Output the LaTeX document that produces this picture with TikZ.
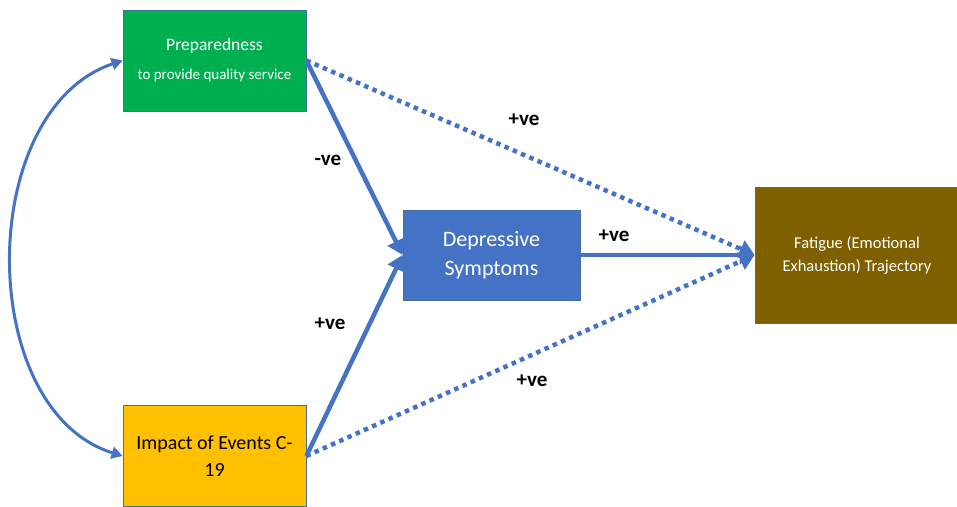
\documentclass[tikz,border=0pt]{standalone}
\usepackage{fontspec}
\setmainfont{Carlito}
\usetikzlibrary{arrows.meta}
\definecolor{boxline}{RGB}{65,113,156}
\definecolor{prepgreen}{RGB}{0,176,80}
\definecolor{impactgold}{RGB}{255,192,0}
\definecolor{deprblue}{RGB}{68,114,196}
\definecolor{fatbrown}{RGB}{127,96,0}
\definecolor{arrowblue}{RGB}{68,114,196}
\begin{document}
\begin{tikzpicture}[x=1pt,y=-1pt,
		factor/.style={draw=boxline,line width=0.8pt,align=center,inner sep=2pt},
		path/.style={arrowblue,line width=4.5pt,-{Triangle[length=15pt,width=18pt]}},
		dotpath/.style={path,dash pattern=on 4.5pt off 4.5pt},
		sign/.style={font=\bfseries\fontsize{21}{24}\selectfont}]
		\useasboundingbox (0,0) rectangle (957,506);
		% boxes
		\node[factor,fill=prepgreen,text=white,minimum width=183pt,minimum height=101pt] (prep) at (214.5,60.5)
			{{\fontsize{17.5}{20}\selectfont Preparedness}\\[15pt]{\fontsize{15}{17}\selectfont to provide quality service}};
		\node[factor,fill=impactgold,text=black,minimum width=183pt,minimum height=101pt,font=\fontsize{20}{27}\selectfont] (impact) at (214.5,456)
			{Impact of Events C-\\19};
		\node[factor,fill=deprblue,text=white,minimum width=177pt,minimum height=90pt,font=\fontsize{22}{29}\selectfont] (depr) at (491.5,255)
			{Depressive\\Symptoms};
		\node[factor,fill=fatbrown,text=white,minimum width=204pt,minimum height=136pt,font=\fontsize{16.5}{23}\selectfont] (fatigue) at (857,255)
			{Fatigue (Emotional\\Exhaustion) Trajectory};
		% paths
		\draw[path] (prep.east) -- (depr.west);
		\draw[path] (impact.east) -- (depr.west);
		\draw[path] (depr.east) -- (fatigue.west);
		\draw[dotpath] (prep.east) -- (fatigue.west);
		\draw[dotpath] (impact.east) -- (fatigue.west);
		\draw[arrowblue,line width=3pt,{Triangle[length=11pt,width=12pt]}-{Triangle[length=11pt,width=12pt]}]
			(impact.west) .. controls (-25,410) and (-25,110) .. (prep.west);
		% signs
		\node[sign] (s1) at (328,160) {-ve};
		\node[sign] (s2) at (524,120) {+ve};
		\node[sign] (s3) at (614,236) {+ve};
		\node[sign] (s4) at (330,324) {+ve};
		\node[sign] (s5) at (532,381) {+ve};
	\end{tikzpicture}
\end{document}
